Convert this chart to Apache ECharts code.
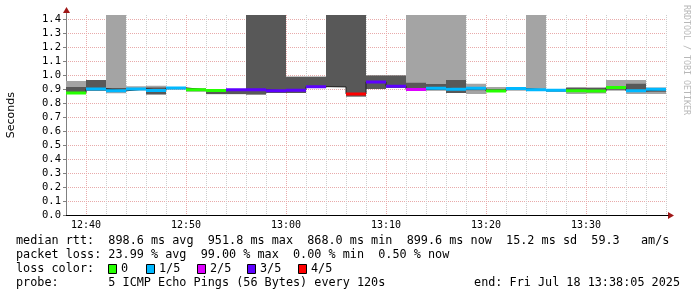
<!DOCTYPE html>
<html><head><meta charset="utf-8">
<script src="https://cdn.jsdelivr.net/npm/echarts@6/dist/echarts.min.js"></script>
<style>html,body{margin:0;padding:0;background:#fff}#c{width:697px;height:297px}</style>
</head><body><div id="c"></div>
<script>
// ---- data ----
const times = ['12:38','12:40','12:42','12:44','12:46','12:48','12:50','12:52','12:54','12:56',
               '12:58','13:00','13:02','13:04','13:06','13:08','13:10','13:12','13:14','13:16',
               '13:18','13:20','13:22','13:24','13:26','13:28','13:30','13:32','13:34','13:36'];
// null high = lost pings, smoke runs to the top of the graph
const lightLow  = [0.869,0.891,0.874,0.893,0.862,0.902,0.884,0.866,0.866,0.862,
                   0.876,0.876,0.919,0.919,0.850,0.905,0.912,0.893,0.893,0.876,
                   0.869,0.884,0.891,0.889,0.884,0.869,0.872,0.891,0.869,0.869];
const lightHigh = [0.962,0.969,null,0.924,0.927,0.915,0.912,0.896,0.900,null,
                   null,0.991,0.991,null,null,1.000,1.000,null,null,null,
                   0.941,0.919,0.917,null,0.903,0.919,0.917,0.969,0.969,0.914];
const darkLow   = [0.876,0.891,0.895,0.900,0.869,0.903,0.891,0.869,0.869,0.866,
                   0.876,0.876,0.919,0.919,0.850,0.905,0.912,0.903,0.896,0.876,
                   0.896,0.891,0.898,0.893,0.886,0.884,0.880,0.898,0.884,0.884];
const darkHigh  = [0.919,0.969,0.912,0.910,0.914,0.912,0.905,0.889,0.898,null,
                   null,0.991,0.991,null,null,1.000,1.000,0.948,0.939,0.969,
                   0.912,0.905,0.912,0.903,0.900,0.912,0.912,0.917,0.941,0.900];
const median    = [0.876,0.905,0.891,0.905,0.893,0.912,0.898,0.893,0.898,0.898,
                   0.891,0.896,0.921,0.919,0.869,0.955,0.924,0.900,0.910,0.903,
                   0.910,0.889,0.907,0.898,0.896,0.891,0.889,0.914,0.891,0.903];
// loss level per step (index into lossColors), null = no coloured median
const lossLevel = [0,1,1,1,1,1,0,0,3,3,
                   3,3,3,null,4,3,3,2,1,1,
                   1,0,1,1,1,0,0,0,1,1];
const lossLabels = ['0','1/5','2/5','3/5','4/5'];
const lossColors = ['#26ff00','#00b8ff','#dd00ff','#5e00ff','#ff0000'];
const xTickLabels = ['12:40','12:50','13:00','13:10','13:20','13:30'];
const statsLines = [
  'median rtt:  898.6 ms avg  951.8 ms max  868.0 ms min  899.6 ms now  15.2 ms sd  59.3   am/s',
  'packet loss: 23.99 % avg  99.00 % max  0.00 % min  0.50 % now',
  'loss color:',
  'probe:       5 ICMP Echo Pings (56 Bytes) every 120s'
];
const endLabel = 'end: Fri Jul 18 13:38:05 2025';
const yAxisTitle = 'Seconds';
const watermark = 'RRDTOOL / TOBI OETIKER';

// ---- layout ----
const STEP = 2;            // minutes per step
const X_MIN = 38, X_MAX = 98.2;
const Y_MAX = 1.433;
const toMin = s => { const [h, m] = s.split(':').map(Number); return (h - 12) * 60 + m; };
const fmtMin = v => { const h = 12 + Math.floor(v / 60), m = Math.round(v % 60); return h + ':' + String(m).padStart(2, '0'); };
const mono = 'DejaVu Sans Mono';

const lightData = times.map((t, i) => [toMin(t), lightLow[i], lightHigh[i] == null ? Y_MAX : lightHigh[i]]);
const darkData  = times.map((t, i) => [toMin(t), darkLow[i], darkHigh[i] == null ? Y_MAX : darkHigh[i]]);
const medData   = times.map((t, i) => [toMin(t), median[i], lossLevel[i] == null ? -1 : lossLevel[i]]);
const stepLine  = times.map((t, i) => [toMin(t), median[i]]).concat([[toMin(times[times.length - 1]) + STEP, median[median.length - 1]]]);

function band(color) {
  return function (params, api) {
    const t = api.value(0), lo = api.value(1), hi = api.value(2);
    const a = api.coord([t, lo]), b = api.coord([t + STEP, hi]);
    return { type: 'rect', shape: { x: a[0], y: b[1], width: b[0] - a[0], height: a[1] - b[1] }, style: { fill: color } };
  };
}
function medRender(params, api) {
  const lvl = api.value(2);
  if (lvl < 0) return null;
  const t = api.value(0), m = api.value(1);
  const a = api.coord([t, m]), b = api.coord([t + STEP, m]);
  return { type: 'rect', shape: { x: a[0], y: a[1] - 1.5, width: b[0] - a[0], height: 3 }, style: { fill: lossColors[lvl] } };
}

const chart = echarts.init(document.getElementById('c'), null, { renderer: 'canvas' });

const graphics = [];
statsLines.forEach((s, i) => graphics.push({ type: 'text', left: 16, top: 235 + i * 14,
  style: { text: s, font: '11.8px "' + mono + '"', fill: '#000' } }));
graphics.push({ type: 'text', right: 17, top: 235 + 3 * 14, style: { text: endLabel, font: '11.8px "' + mono + '"', fill: '#000' } });
const boxX = [108, 146, 197, 247, 298];
lossLabels.forEach((l, i) => {
  graphics.push({ type: 'rect', shape: { x: boxX[i] + 0.5, y: 264.5, width: 8, height: 9 }, style: { fill: lossColors[i], stroke: '#000', lineWidth: 1 } });
  graphics.push({ type: 'text', x: boxX[i] + 13, y: 263, style: { text: l, font: '11.8px "' + mono + '"', fill: '#000' } });
});
graphics.push({ type: 'text', x: 690, y: 5, rotation: -Math.PI / 2,
  style: { text: watermark, font: '8.3px "' + mono + '"', fill: '#b8b8b8' } });
graphics.push({ type: 'line', shape: { x1: 66.5, y1: 15, x2: 66.5, y2: 11 }, style: { stroke: '#808080', lineWidth: 1 } });
graphics.push({ type: 'polygon', shape: { points: [[63, 13], [70, 13], [66.5, 7]] }, style: { fill: '#a01818' } });
graphics.push({ type: 'polygon', shape: { points: [[668, 212], [668, 219], [674, 215.5]] }, style: { fill: '#a01818' } });

chart.setOption({
  animation: false,
  backgroundColor: '#fff',
  grid: { left: 66, top: 15, width: 602, height: 200.5, containLabel: false, outerBoundsMode: 'none' },
  xAxis: {
    type: 'value', min: X_MIN, max: X_MAX, interval: STEP,
    axisLine: { show: true, lineStyle: { color: '#000', width: 1 } },
    axisTick: { show: false },
    axisLabel: {
      margin: 5, color: '#000', fontFamily: mono, fontSize: 10,
      showMinLabel: true, showMaxLabel: true,
      formatter: v => { const s = fmtMin(v); return (Math.abs(v - Math.round(v)) < 1e-6 && xTickLabels.includes(s)) ? s : ''; }
    },
    splitLine: { show: true, showMaxLine: false,
      lineStyle: { color: ['#cccccc', '#e8aaaa', '#cccccc', '#cccccc', '#cccccc'], type: [1, 1], width: 1 } }
  },
  yAxis: {
    type: 'value', min: 0, max: Y_MAX, interval: 0.1,
    name: yAxisTitle, nameLocation: 'middle', nameGap: 49, nameRotate: 90,
    nameTextStyle: { fontFamily: 'DejaVu Sans', fontSize: 11, color: '#000' },
    axisLine: { show: true, lineStyle: { color: '#808080', width: 1 } },
    axisTick: { show: true, length: 3, lineStyle: { color: '#808080' } },
    axisLabel: { margin: 5, color: '#000', fontFamily: mono, fontSize: 10.5, showMaxLabel: false,
      formatter: v => v.toFixed(1) },
    splitLine: { show: true, showMaxLine: false, showMinLine: false,
      lineStyle: { color: '#e8aaaa', type: [1, 1], width: 1 } }
  },
  series: [
    { type: 'custom', data: lightData, renderItem: band('#a4a4a4'), clip: true, silent: true, z: 2 },
    { type: 'custom', data: darkData, renderItem: band('#585858'), clip: true, silent: true, z: 3 },
    { type: 'line', data: stepLine, step: 'end', symbol: 'none', lineStyle: { color: '#202020', width: 1 }, silent: true, z: 4 },
    { type: 'custom', data: medData, renderItem: medRender, clip: true, silent: true, z: 5 }
  ],
  graphic: graphics
});
</script></body></html>
